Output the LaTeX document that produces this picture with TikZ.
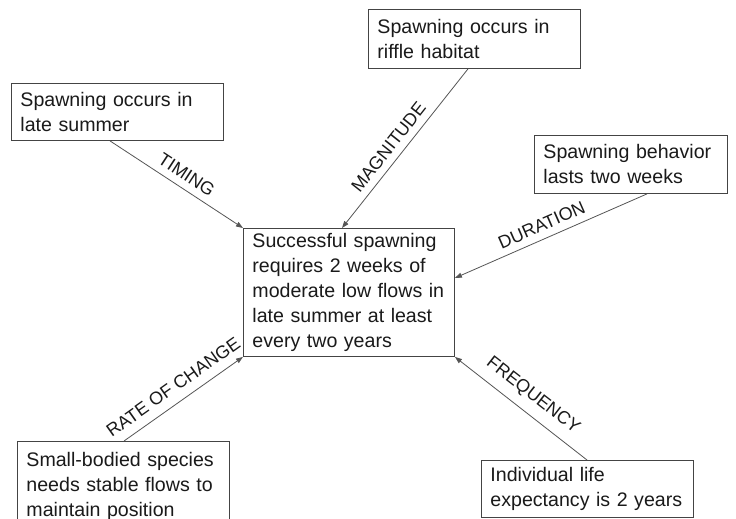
\documentclass[tikz,border=0pt]{standalone}
\usepackage{fontspec}
\setmainfont{Liberation Sans}
\usetikzlibrary{arrows.meta}
\definecolor{boxline}{HTML}{444444}
\definecolor{linkcol}{HTML}{555555}
\definecolor{ink}{HTML}{1A1A1A}
\begin{document}
\begin{tikzpicture}[x=1pt,y=-1pt,
  box/.style={draw=boxline, line width=0.9pt, rectangle, anchor=north west,
    align=left, inner xsep=9pt, inner ysep=0pt, text=ink,
    font=\fontsize{19.6}{25}\selectfont},
  link/.style={draw=linkcol, line width=0.8pt, -{Triangle[length=7pt,width=5pt]}},
  lab/.style={sloped, above, inner sep=7pt, text=ink,
    font=\fontsize{18}{20}\selectfont}]
\useasboundingbox (0,0) rectangle (736,519);
\clip (0,0) rectangle (736,519);
\fill[white] (0,0) rectangle (736,519);

% central statement
\node[box, text width=193pt, minimum height=128pt] (goal) at (243,228)
  {Successful spawning\\requires 2 weeks of\\moderate low flows in\\late summer at least\\every two years};

% flow components
\node[box, text width=194pt, minimum height=57pt] (timing) at (11,83)
  {Spawning occurs in\\late summer};
\node[box, text width=194pt, minimum height=59pt] (magnitude) at (368,9)
  {Spawning occurs in\\riffle habitat};
\node[box, text width=175pt, minimum height=58pt] (duration) at (534,135)
  {Spawning behavior\\lasts two weeks};
\node[box, text width=194pt, minimum height=90pt] (rate) at (17,441)
  {Small-bodied species\\needs stable flows to\\maintain position};
\node[box, text width=194pt, minimum height=57pt] (frequency) at (481,460)
  {Individual life\\expectancy is 2 years};

% connectors
\draw[link] ([xshift=99pt]timing.south west) -- (goal.north west)
  node[lab, pos=0.52] {TIMING};
\draw[link] ([xshift=100pt]magnitude.south west) -- ([xshift=99pt]goal.north west)
  node[lab, pos=0.545] {MAGNITUDE};
\draw[link] ([xshift=113pt]duration.south west) -- ([yshift=-50pt]goal.north east)
  node[lab, pos=0.52] {DURATION};
\draw[link] ([xshift=107pt]rate.north west) -- (goal.south west)
  node[lab, pos=0.49, inner sep=9pt] {RATE OF CHANGE};
\draw[link] ([xshift=106pt]frequency.north west) -- (goal.south east)
  node[lab, pos=0.49, inner sep=9pt] {FREQUENCY};
\end{tikzpicture}
\end{document}
